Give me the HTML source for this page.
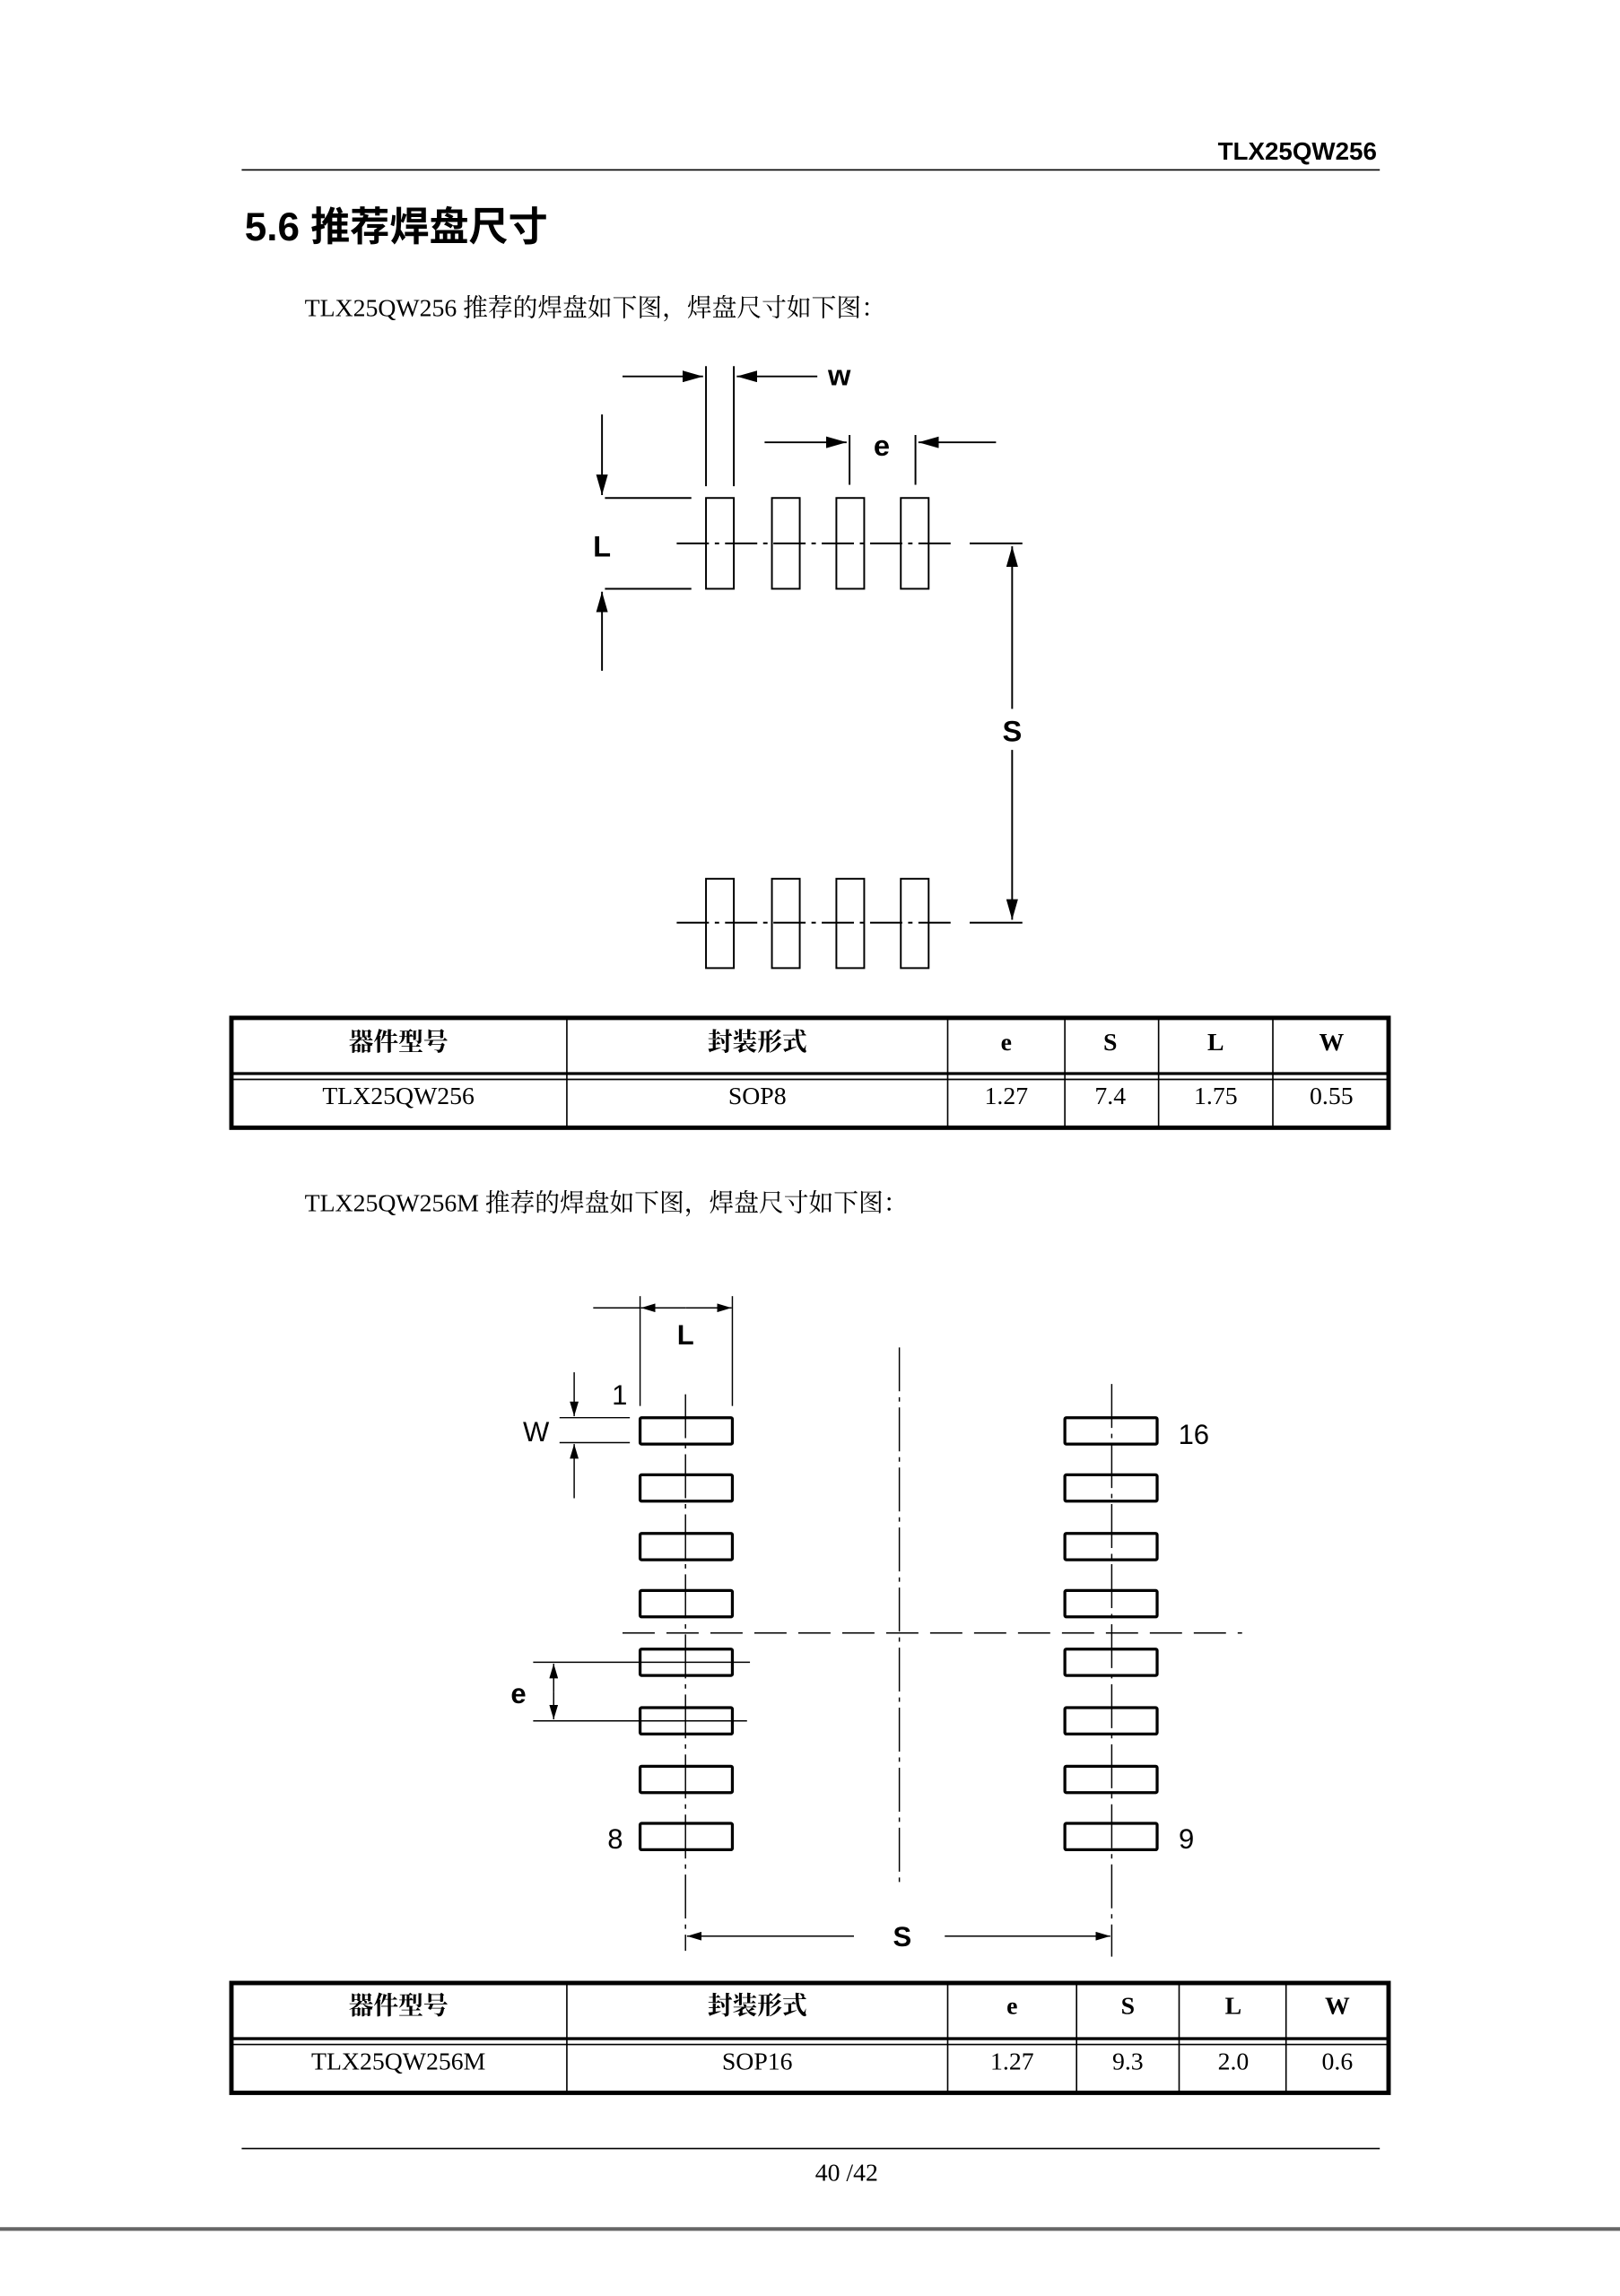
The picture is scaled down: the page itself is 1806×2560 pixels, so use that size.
<!DOCTYPE html>
<html><head><meta charset="utf-8"><style>
html,body{margin:0;padding:0;background:#fff;}
svg{display:block;}
.s{font-family:"Liberation Serif","Noto Serif CJK SC",serif;}
.a{font-family:"Liberation Sans","Noto Sans CJK SC",sans-serif;}
</style></head><body>
<svg width="1806" height="2560" viewBox="0 0 1106 1567.7" xmlns="http://www.w3.org/2000/svg">
<defs>
<marker id="ar" viewBox="0 0 10 6" refX="10" refY="3" markerWidth="10" markerHeight="6" orient="auto" markerUnits="userSpaceOnUse"><path d="M0,0 L10,3 L0,6z" fill="#000"/></marker>
<marker id="ar2" viewBox="0 0 14 8" refX="14" refY="4" markerWidth="14" markerHeight="8" orient="auto" markerUnits="userSpaceOnUse"><path d="M0,0 L14,4 L0,8z" fill="#000"/></marker>
</defs>
<!-- header -->
<text x="940" y="109" text-anchor="end" class="a" font-size="17" font-weight="bold">TLX25QW256</text>
<line x1="165" y1="116" x2="942" y2="116" stroke="#000" stroke-width="1"/>
<text x="167" y="164" class="a" font-size="27" font-weight="bold">5.6 推荐焊盘尺寸</text>
<text x="208" y="216" class="s" font-size="17">TLX25QW256 推荐的焊盘如下图，焊盘尺寸如下图：</text>

<!-- diagram 1 -->
<g stroke="#000" stroke-width="1.2" fill="none">
<rect x="482" y="340" width="19" height="62"/><rect x="527" y="340" width="19" height="62"/><rect x="571" y="340" width="19" height="62"/><rect x="615" y="340" width="19" height="62"/>
<rect x="482" y="600" width="19" height="61"/><rect x="527" y="600" width="19" height="61"/><rect x="571" y="600" width="19" height="61"/><rect x="615" y="600" width="19" height="61"/>
<line x1="462" y1="371" x2="652" y2="371" stroke-dasharray="22,4,3,4"/>
<line x1="662" y1="371" x2="698" y2="371"/>
<line x1="462" y1="630" x2="652" y2="630" stroke-dasharray="22,4,3,4"/>
<line x1="662" y1="630" x2="698" y2="630"/>
<line x1="482" y1="250" x2="482" y2="332"/><line x1="501" y1="250" x2="501" y2="332"/>
<line x1="425" y1="257" x2="480" y2="257" marker-end="url(#ar2)"/>
<line x1="558" y1="257" x2="503" y2="257" marker-end="url(#ar2)"/>
<line x1="580" y1="297" x2="580" y2="331"/><line x1="625" y1="297" x2="625" y2="331"/>
<line x1="522" y1="302" x2="578" y2="302" marker-end="url(#ar2)"/>
<line x1="680" y1="302" x2="627" y2="302" marker-end="url(#ar2)"/>
<line x1="413" y1="340" x2="472" y2="340"/><line x1="413" y1="402" x2="472" y2="402"/>
<line x1="411" y1="283" x2="411" y2="338" marker-end="url(#ar2)"/>
<line x1="411" y1="458" x2="411" y2="404" marker-end="url(#ar2)"/>
<line x1="691" y1="484" x2="691" y2="373" marker-end="url(#ar2)"/>
<line x1="691" y1="512" x2="691" y2="628" marker-end="url(#ar2)"/>
</g>
<g class="a" font-weight="bold" font-size="20" text-anchor="middle">
<text x="573" y="263">w</text><text x="602" y="311">e</text><text x="411" y="380">L</text><text x="691" y="506">S</text>
</g>

<!-- table 1 -->
<g stroke="#000" fill="none">
<rect x="158" y="695" width="790" height="75" stroke-width="3"/>
<line x1="158" y1="733" x2="948" y2="733" stroke-width="2"/>
<line x1="158" y1="737" x2="948" y2="737" stroke-width="1"/>
<g stroke-width="1"><line x1="387" y1="695" x2="387" y2="770"/><line x1="647" y1="695" x2="647" y2="770"/><line x1="727" y1="695" x2="727" y2="770"/><line x1="791" y1="695" x2="791" y2="770"/><line x1="869" y1="695" x2="869" y2="770"/></g>
</g>
<g class="s" font-size="17" text-anchor="middle">
<text x="272" y="717" font-weight="bold">器件型号</text><text x="517" y="717" font-weight="bold">封装形式</text>
<text x="687" y="717" font-weight="bold">e</text><text x="758" y="717" font-weight="bold">S</text><text x="830" y="717" font-weight="bold">L</text><text x="909" y="717" font-weight="bold">W</text>
<text x="272" y="754">TLX25QW256</text><text x="517" y="754">SOP8</text><text x="687" y="754">1.27</text><text x="758" y="754">7.4</text><text x="830" y="754">1.75</text><text x="909" y="754">0.55</text>
</g>

<text x="208" y="827" class="s" font-size="17">TLX25QW256M 推荐的焊盘如下图，焊盘尺寸如下图：</text>

<!-- diagram 2 -->
<g stroke="#000" fill="none">
<g stroke-width="2">
<rect x="437" y="968" width="63" height="18" rx="1"/><rect x="437" y="1007" width="63" height="18" rx="1"/><rect x="437" y="1047" width="63" height="18" rx="1"/><rect x="437" y="1086" width="63" height="18" rx="1"/>
<rect x="437" y="1126" width="63" height="18" rx="1"/><rect x="437" y="1166" width="63" height="18" rx="1"/><rect x="437" y="1206" width="63" height="18" rx="1"/><rect x="437" y="1245" width="63" height="18" rx="1"/>
<rect x="727" y="968" width="63" height="18" rx="1"/><rect x="727" y="1007" width="63" height="18" rx="1"/><rect x="727" y="1047" width="63" height="18" rx="1"/><rect x="727" y="1086" width="63" height="18" rx="1"/>
<rect x="727" y="1126" width="63" height="18" rx="1"/><rect x="727" y="1166" width="63" height="18" rx="1"/><rect x="727" y="1206" width="63" height="18" rx="1"/><rect x="727" y="1245" width="63" height="18" rx="1"/>
</g>
<g stroke-width="0.9">
<line x1="468" y1="952" x2="468" y2="1332" stroke-dasharray="30,4,3,4"/>
<line x1="759" y1="945" x2="759" y2="1336" stroke-dasharray="30,4,3,4"/>
<line x1="614" y1="920" x2="614" y2="1285" stroke-dasharray="30,4,3,4"/>
<line x1="425" y1="1115" x2="848" y2="1115" stroke-dasharray="22,8"/>
<line x1="437" y1="885" x2="437" y2="960"/><line x1="500" y1="885" x2="500" y2="960"/>
<line x1="405" y1="893" x2="437" y2="893"/>
<line x1="468" y1="893" x2="437.5" y2="893" marker-end="url(#ar)"/>
<line x1="468" y1="893" x2="499.5" y2="893" marker-end="url(#ar)"/>
<line x1="382" y1="968" x2="430" y2="968"/><line x1="382" y1="985" x2="430" y2="985"/>
<line x1="392" y1="937" x2="392" y2="967" marker-end="url(#ar)"/>
<line x1="392" y1="1023" x2="392" y2="986" marker-end="url(#ar)"/>
<line x1="364" y1="1135" x2="512" y2="1135"/><line x1="364" y1="1175" x2="510" y2="1175"/>
<line x1="378" y1="1155" x2="378" y2="1136" marker-end="url(#ar)"/>
<line x1="378" y1="1155" x2="378" y2="1174" marker-end="url(#ar)"/>
<line x1="583" y1="1322" x2="469" y2="1322" marker-end="url(#ar)"/>
<line x1="645" y1="1322" x2="758" y2="1322" marker-end="url(#ar)"/>
</g>
</g>
<g class="a" font-size="19" text-anchor="middle">
<text x="468" y="918" font-weight="bold">L</text>
<text x="423" y="959">1</text><text x="366" y="984">W</text>
<text x="354" y="1163" font-weight="bold">e</text>
<text x="420" y="1262">8</text><text x="815" y="986">16</text><text x="810" y="1262">9</text>
<text x="616" y="1329" font-weight="bold">S</text>
</g>

<!-- table 2 -->
<g stroke="#000" fill="none">
<rect x="158" y="1354" width="790" height="75" stroke-width="3"/>
<line x1="158" y1="1392" x2="948" y2="1392" stroke-width="2"/>
<line x1="158" y1="1396" x2="948" y2="1396" stroke-width="1"/>
<g stroke-width="1"><line x1="387" y1="1354" x2="387" y2="1429"/><line x1="647" y1="1354" x2="647" y2="1429"/><line x1="735" y1="1354" x2="735" y2="1429"/><line x1="805" y1="1354" x2="805" y2="1429"/><line x1="878" y1="1354" x2="878" y2="1429"/></g>
</g>
<g class="s" font-size="17" text-anchor="middle">
<text x="272" y="1375" font-weight="bold">器件型号</text><text x="517" y="1375" font-weight="bold">封装形式</text>
<text x="691" y="1375" font-weight="bold">e</text><text x="770" y="1375" font-weight="bold">S</text><text x="842" y="1375" font-weight="bold">L</text><text x="913" y="1375" font-weight="bold">W</text>
<text x="272" y="1413">TLX25QW256M</text><text x="517" y="1413">SOP16</text><text x="691" y="1413">1.27</text><text x="770" y="1413">9.3</text><text x="842" y="1413">2.0</text><text x="913" y="1413">0.6</text>
</g>

<line x1="165" y1="1467" x2="942" y2="1467" stroke="#000" stroke-width="1"/>
<text x="578" y="1489" text-anchor="middle" class="s" font-size="17">40 /42</text>
<line x1="0" y1="1522" x2="1106" y2="1522" stroke="#666" stroke-width="2.5"/>
</svg>
</body></html>
